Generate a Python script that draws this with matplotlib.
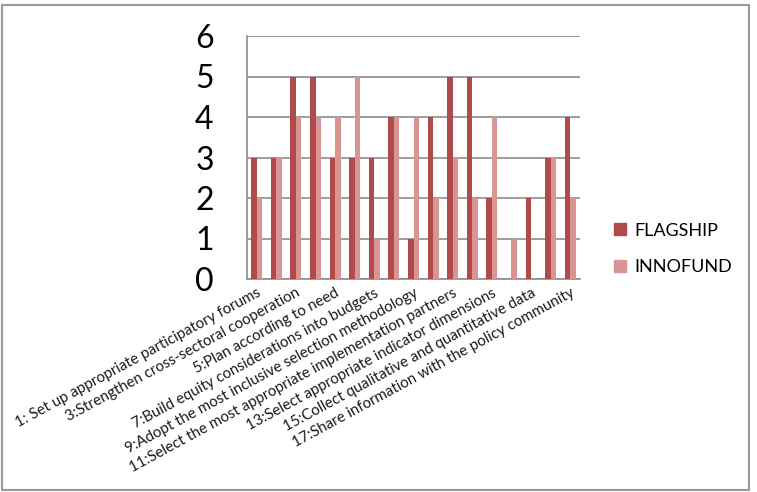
import matplotlib
matplotlib.use("Agg")
import matplotlib.pyplot as plt
import numpy as np
from matplotlib.lines import Line2D
from matplotlib.patches import Rectangle

categories = list(range(1, 18))
tick_labels = {
    1: "1: Set up appropriate participatory forums",
    3: "3:Strengthen cross-sectoral cooperation",
    5: "5:Plan according to need",
    7: "7:Build equity considerations into budgets",
    9: "9:Adopt the most inclusive selection methodology",
    11: "11:Select the most appropriate implementation partners",
    13: "13:Select appropriate indicator dimensions",
    15: "15:Collect qualitative and quantitative data",
    17: "17:Share information with the policy community",
}
flagship = [3, 3, 5, 5, 3, 3, 3, 4, 1, 4, 5, 5, 2, 0, 2, 3, 4]
innofund = [2, 3, 4, 4, 4, 5, 1, 4, 4, 2, 3, 2, 4, 1, 0, 3, 2]

plt.rcParams['font.family'] = ['Lato', 'DejaVu Sans']

fig = plt.figure(figsize=(7.57, 4.92), dpi=100)
ax = fig.add_axes([247/757, 1-279/492, 333/757, 243/492])

x = np.arange(len(categories))
w = 0.28
c_f = '#B04A4B'
c_i = '#D99594'
ax.bar(x - w/2, flagship, width=w, color=c_f, zorder=3)
ax.bar(x + w/2, innofund, width=w, color=c_i, zorder=3)

ax.set_xlim(-0.5, len(categories) - 0.5)
ax.set_ylim(0, 6)
ax.set_yticks(range(0, 7))
ax.yaxis.grid(True, color='#8c8c8c', linewidth=1.2, zorder=0)
ax.set_axisbelow(True)
for s in ['top', 'right']:
    ax.spines[s].set_visible(False)
for s in ['left', 'bottom']:
    ax.spines[s].set_color('#8c8c8c')
    ax.spines[s].set_linewidth(1.2)
ax.tick_params(axis='y', length=0, pad=24, labelsize=23)
ax.tick_params(axis='x', length=0, pad=5)

pos = [categories.index(k) for k in tick_labels]
ax.set_xticks(pos)
ax.set_xticklabels(list(tick_labels.values()), rotation=28.5, ha='right',
                   rotation_mode='anchor', fontsize=10.8, color='#1a1a1a')

handles = [Line2D([], [], marker='s', linestyle='none', color=c_f, markersize=8),
           Line2D([], [], marker='s', linestyle='none', color=c_i, markersize=8)]
fig.legend(handles, ['FLAGSHIP', 'INNOFUND'], loc='center left',
           bbox_to_anchor=(595/757, 1-249/492), frameon=False, fontsize=13,
           handletextpad=0.3, labelspacing=1.15, handlelength=1.0)

fig.patches.append(Rectangle((2/757, 2/492), 747/757, 485/492, transform=fig.transFigure,
                             fill=False, edgecolor='#9a9a9a', linewidth=1.5))

fig.savefig('out.png', dpi=100)
